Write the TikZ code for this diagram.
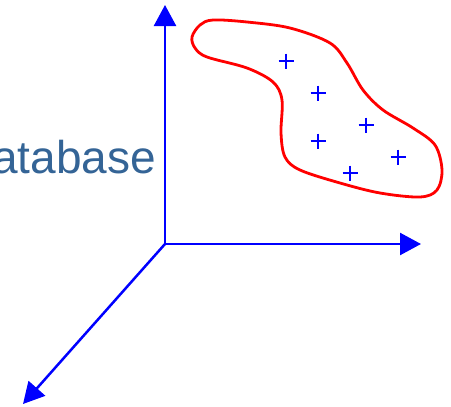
\documentclass[tikz,border=0pt]{standalone}
\usepackage{fontspec}
\setmainfont{Liberation Sans}
\usetikzlibrary{arrows.meta}
\definecolor{axisblue}{RGB}{0,0,255}
\definecolor{textblue}{RGB}{52,100,150}
\definecolor{blobred}{RGB}{255,0,0}
\tikzset{
  axis/.style={draw=axisblue, line width=2.5pt, -{Triangle[length=21pt,width=22pt]}},
  blob/.style={draw=blobred, line width=2.8pt},
  pt/.style={draw=axisblue, line width=2.7pt},
}
\begin{document}
\begin{tikzpicture}[x=1pt,y=-1pt]
\useasboundingbox (0,0) rectangle (451,407);
\clip (0,0) rectangle (451,407);
\node[anchor=base east, inner sep=0pt, text=textblue, font=\fontsize{46}{50}\selectfont] (lbl) at (156,173) {Database};
\coordinate (O) at (165,244);
\coordinate (Y) at (165,5);
\coordinate (X) at (421,244);
\coordinate (Z) at (23,404);
\draw[axis] (O) -- (Y);
\draw[axis] (O) -- (X);
\draw[axis] (O) -- (Z);
\draw[blob] plot[smooth cycle, tension=0.55] coordinates {
 (192,37) (200,25) (213,20) (247,22) (290,28) (330,43) (347,63) (363,90) (383,110)
 (413,128) (435,145) (442,170) (437,190) (420,197) (380,193) (340,183) (300,170)
 (285,157) (281,133) (282,100) (273,82) (247,68) (207,57) (195,48)};
\foreach \x/\y in {286/61, 318/93, 366/125, 318/141, 398/157, 350/173} {
  \draw[pt] (\x-7.5,\y) -- (\x+7.5,\y);
  \draw[pt] (\x,\y-7.5) -- (\x,\y+7.5);
}
\end{tikzpicture}
\end{document}
